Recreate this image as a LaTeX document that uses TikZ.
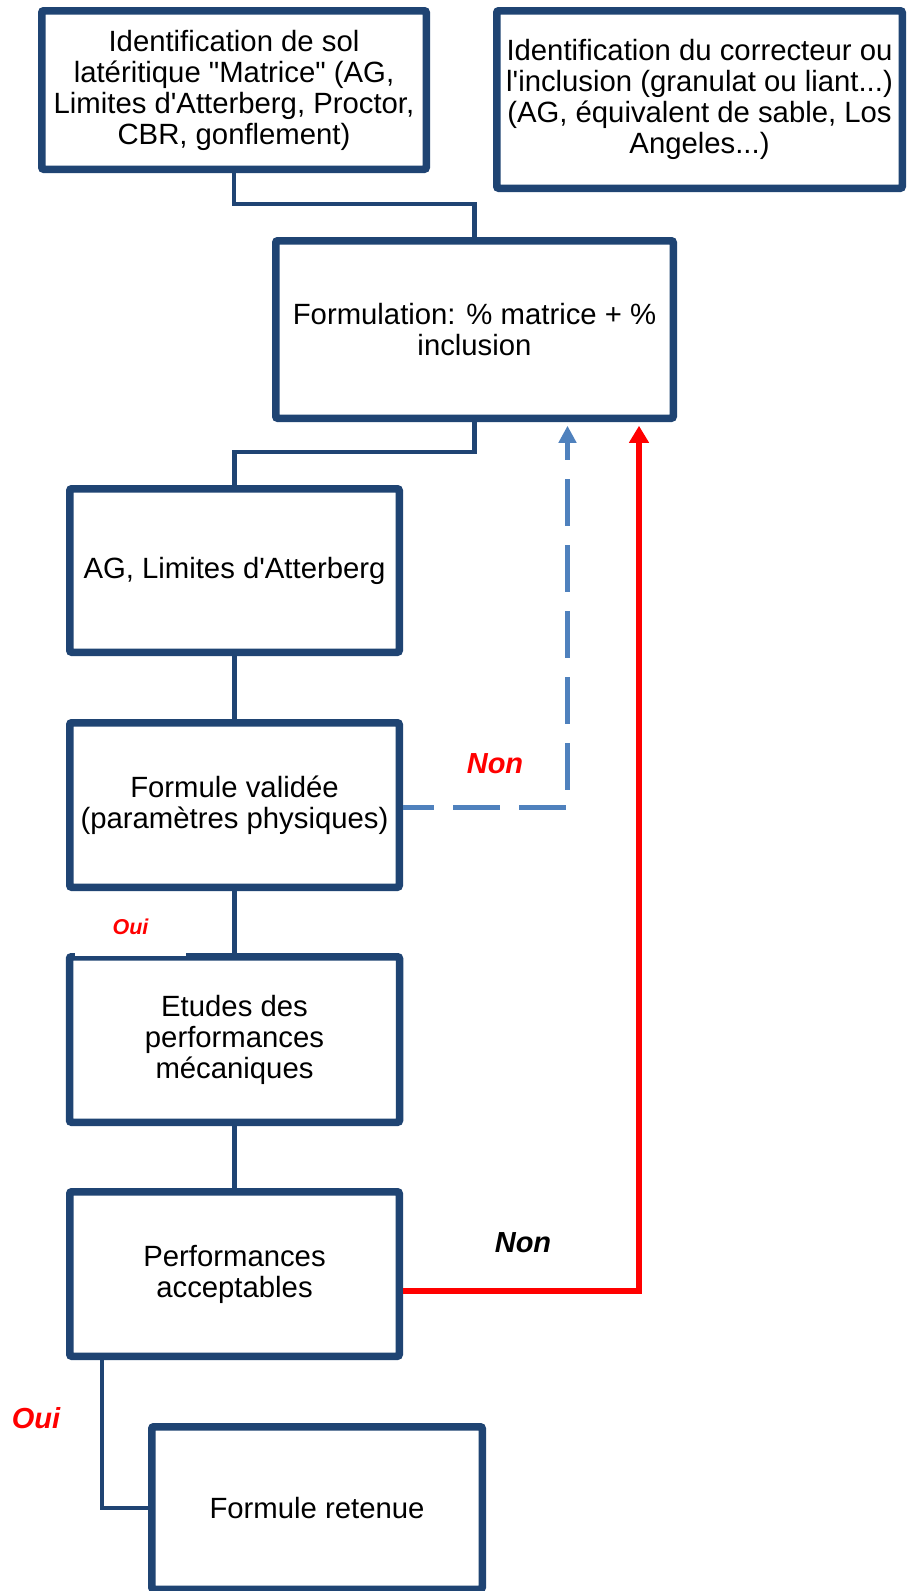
\documentclass[tikz,border=0pt]{standalone}
\usepackage{fontspec}
\setmainfont{Liberation Sans}
\usetikzlibrary{arrows.meta,shadows,calc}
\definecolor{navy}{RGB}{31,68,115}
\definecolor{lblue}{RGB}{79,129,189}
\definecolor{pred}{RGB}{255,0,0}
\tikzset{
  boxnode/.style={draw=navy, line width=7.5pt, fill=white, rounded corners=2pt,
    inner sep=0pt, align=center, font=\fontsize{29.3}{31}\selectfont,
    drop shadow={shadow xshift=1.5pt, shadow yshift=-3pt, opacity=0.18, fill=black}},
  conn/.style={draw=navy, line width=4.5pt},
  bluedash/.style={draw=lblue, line width=5pt, dash pattern=on 47pt off 19pt, dash phase=16pt,
    -{Triangle[length=17pt,width=17pt]}},
  redline/.style={draw=pred, line width=5.5pt, -{Triangle[length=17pt,width=19pt]}},
  lbl/.style={font=\fontsize{29}{31}\selectfont\bfseries\itshape, inner sep=0pt}
}
\begin{document}
\begin{tikzpicture}[x=1pt,y=-1pt]
\useasboundingbox (0,0) rectangle (907,1591);
\fill[white] (0,0) rectangle (907,1591);

\node[boxnode, minimum width=384.5pt, minimum height=158.5pt] (b1) at (234,90)
  {Identification de sol\\lat\'eritique \textquotedbl Matrice\textquotedbl{} (AG,\\Limites d\textquotesingle Atterberg, Proctor,\\CBR, gonflement)};
\node[boxnode, minimum width=405.5pt, minimum height=177.5pt] (b2) at (699.5,99.5)
  {Identification du correcteur ou\\l\textquotesingle inclusion (granulat ou liant...)\\(AG, \'equivalent de sable, Los\\Angeles...)};
\node[boxnode, minimum width=397.5pt, minimum height=177.5pt] (form) at (474.5,329.5)
  {Formulation: \% matrice + \%\\inclusion};
\node[boxnode, minimum width=329.5pt, minimum height=163.5pt] (ag) at (234.5,570.5)
  {AG, Limites d\textquotesingle Atterberg};
\node[boxnode, minimum width=329.5pt, minimum height=164.5pt] (val) at (234.5,805)
  {Formule valid\'ee\\(param\`etres physiques)};
\node[boxnode, minimum width=330pt, minimum height=165.5pt] (etu) at (234.5,1039.5)
  {Etudes des\\performances\\m\'ecaniques};
\node[boxnode, minimum width=329.5pt, minimum height=164.5pt] (perf) at (234.5,1274)
  {Performances\\acceptables};
\node[boxnode, minimum width=330.5pt, minimum height=162.5pt] (ret) at (317,1508)
  {Formule retenue};

% connectors
\coordinate (j1) at (474.5,204);
\draw[conn] (b1.south) |- (j1) -- (form.north);
\coordinate (j2) at (234.5,452);
\draw[conn] (form.south) |- (j2) -- (ag.north);
\draw[conn] (ag.south) -- (val.north);
\draw[conn] (val.south) -- (etu.north);
\draw[conn] (etu.south) -- (perf.north);
\coordinate (j3) at (102,1508);
\draw[conn] (perf.south -| j3) -- (j3) -- (ret.west);

% feedback loops
\coordinate (kb) at (567.5,807);
\draw[bluedash] (val.east |- kb) -- (kb) -- ([yshift=-3.75pt]form.south -| kb);
\coordinate (kr) at (639,1291);
\draw[redline] (perf.east |- kr) -- (kr) -- ([yshift=-3.75pt]form.south -| kr);

% labels
\node[lbl, text=pred] (non1) at (495,764) {Non};
\node[lbl, text=black] (non2) at (523,1243) {Non};
\node[lbl, text=pred] (oui2) at (36,1418) {Oui};
\node[lbl, text=pred, font=\fontsize{21.5}{23}\selectfont\bfseries\itshape, fill=white,
  minimum width=111pt, minimum height=58pt] (oui1) at (130.5,927) {Oui};
\end{tikzpicture}
\end{document}
